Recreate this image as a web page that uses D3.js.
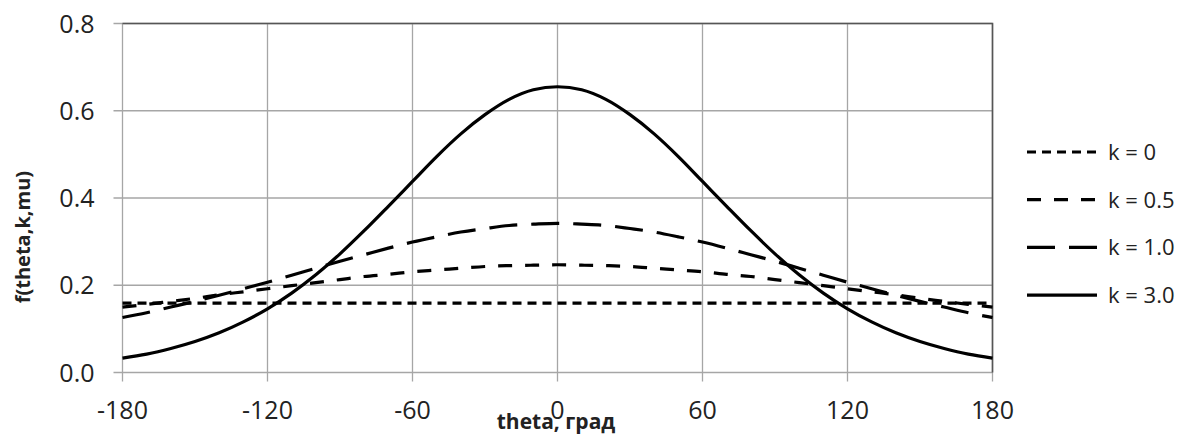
<!DOCTYPE html>
<html lang="ru">
<head>
    <meta charset="UTF-8">
    <title>f(theta,k,mu)</title>
    <script src="https://d3js.org/d3.v7.min.js"></script>
    <style>
        body { margin: 0; background: #fff; }
        text { font-family: "Open Sans", "DejaVu Sans", sans-serif; fill: #222; }
    </style>
</head>
<body>
    <div class="canvas"></div>
    <script>
        // углы, град
        const theta = [-180, -170, -160, -150, -140, -130, -120, -110, -100, -90, -80, -70, -60, -50, -40, -30, -20, -10,
                       0, 10, 20, 30, 40, 50, 60, 70, 80, 90, 100, 110, 120, 130, 140, 150, 160, 170, 180];

        const k0 = theta.map(() => 0.159);
        const k05 = [0.150, 0.156, 0.163, 0.170, 0.178, 0.185, 0.192, 0.199, 0.206, 0.213, 0.220, 0.225, 0.231, 0.235, 0.239, 0.243, 0.245, 0.246,
                     0.247, 0.246, 0.245, 0.243, 0.239, 0.235, 0.231, 0.225, 0.220, 0.213, 0.206, 0.199, 0.192, 0.185, 0.178, 0.170, 0.163, 0.156, 0.150];
        const k10 = [0.126, 0.137, 0.150, 0.163, 0.177, 0.192, 0.207, 0.223, 0.239, 0.255, 0.270, 0.285, 0.299, 0.311, 0.322, 0.330, 0.337, 0.340,
                     0.342, 0.340, 0.337, 0.330, 0.322, 0.311, 0.299, 0.285, 0.270, 0.255, 0.239, 0.223, 0.207, 0.192, 0.177, 0.163, 0.150, 0.137, 0.126];
        const k30 = [0.033, 0.042, 0.055, 0.071, 0.091, 0.116, 0.146, 0.182, 0.224, 0.272, 0.325, 0.381, 0.438, 0.495, 0.547, 0.591, 0.626, 0.648,
                     0.655, 0.648, 0.626, 0.591, 0.547, 0.495, 0.438, 0.381, 0.325, 0.272, 0.224, 0.182, 0.146, 0.116, 0.091, 0.071, 0.055, 0.042, 0.033];

        const seriesNames = ['k = 0', 'k = 0.5', 'k = 1.0', 'k = 3.0'];
        const seriesValues = [k0, k05, k10, k30];
        const dashes = ['9,6', '14,13', '28,14', null];

        const xTicks = [-180, -120, -60, 0, 60, 120, 180];
        const yTicks = [0, 0.2, 0.4, 0.6, 0.8];

        const width = 1185;
        const height = 434;
        const [mt, ml] = [23.5, 122.5];
        const graphWidth = 870;
        const graphHeight = 349;

        const svg = d3.select('.canvas')
            .append('svg')
            .attr('width', width)
            .attr('height', height);

        const graph = svg.append('g')
            .attr('transform', `translate(${ml}, ${mt})`);

        const x = d3.scaleLinear().domain([-180, 180]).range([0, graphWidth]);
        const y = d3.scaleLinear().domain([0, 0.8]).range([graphHeight, 0]);

        // сетка
        graph.append('g')
            .selectAll('line')
            .data(xTicks)
            .join('line')
            .attr('x1', d => x(d)).attr('x2', d => x(d))
            .attr('y1', 0).attr('y2', graphHeight + 9)
            .attr('stroke', '#a6a6a6')
            .attr('stroke-width', 1.3);

        graph.append('g')
            .selectAll('line')
            .data(yTicks)
            .join('line')
            .attr('x1', -9).attr('x2', graphWidth)
            .attr('y1', d => y(d)).attr('y2', d => y(d))
            .attr('stroke', '#a6a6a6')
            .attr('stroke-width', 1.3);

        // верхняя и правая рамка
        graph.append('path')
            .attr('d', `M0,${y(0.8)}H${x(180)}V${y(0)}`)
            .attr('fill', 'none')
            .attr('stroke', '#555')
            .attr('stroke-width', 1.6);

        // подписи осей
        graph.append('g')
            .selectAll('text')
            .data(yTicks)
            .join('text')
            .attr('x', -28)
            .attr('y', d => y(d))
            .attr('dy', '0.36em')
            .attr('text-anchor', 'end')
            .style('font-size', '25px')
            .text(d => d3.format('.1f')(d));

        graph.append('g')
            .selectAll('text')
            .data(xTicks)
            .join('text')
            .attr('x', d => x(d))
            .attr('y', graphHeight + 37)
            .attr('dy', '0.36em')
            .attr('text-anchor', 'middle')
            .style('font-size', '25px')
            .text(d => d);

        svg.append('text')
            .attr('transform', `translate(23, ${mt + graphHeight * 0.612}) rotate(-90)`)
            .attr('text-anchor', 'middle')
            .attr('dy', '0.36em')
            .style('font-size', '20px')
            .style('font-weight', 'bold')
            .text('f(theta,k,mu)');

        svg.append('text')
            .attr('x', 556)
            .attr('y', 421)
            .attr('dy', '0.36em')
            .attr('text-anchor', 'middle')
            .style('font-size', '21px')
            .style('font-weight', 'bold')
            .text('theta, град');

        // кривые
        const line = d3.line()
            .x((d, i) => x(theta[i]))
            .y(d => y(d))
            .curve(d3.curveMonotoneX);

        graph.append('g')
            .selectAll('path')
            .data(seriesValues)
            .join('path')
            .attr('d', d => line(d))
            .attr('fill', 'none')
            .attr('stroke', '#000')
            .attr('stroke-width', 3.2)
            .attr('stroke-dasharray', (d, i) => dashes[i]);

        // легенда
        const legend = svg.append('g')
            .attr('transform', 'translate(1027, 152)');

        const items = legend.selectAll('g')
            .data(seriesNames)
            .join('g')
            .attr('transform', (d, i) => `translate(0, ${i * 47.7})`);

        items.append('line')
            .attr('x1', 0).attr('x2', 70)
            .attr('y1', 0).attr('y2', 0)
            .attr('stroke', '#000')
            .attr('stroke-width', 3.2)
            .attr('stroke-dasharray', (d, i) => dashes[i]);

        items.append('text')
            .attr('x', 81)
            .attr('dy', '0.36em')
            .style('font-size', '22px')
            .text(d => d);
    </script>
</body>
</html>
